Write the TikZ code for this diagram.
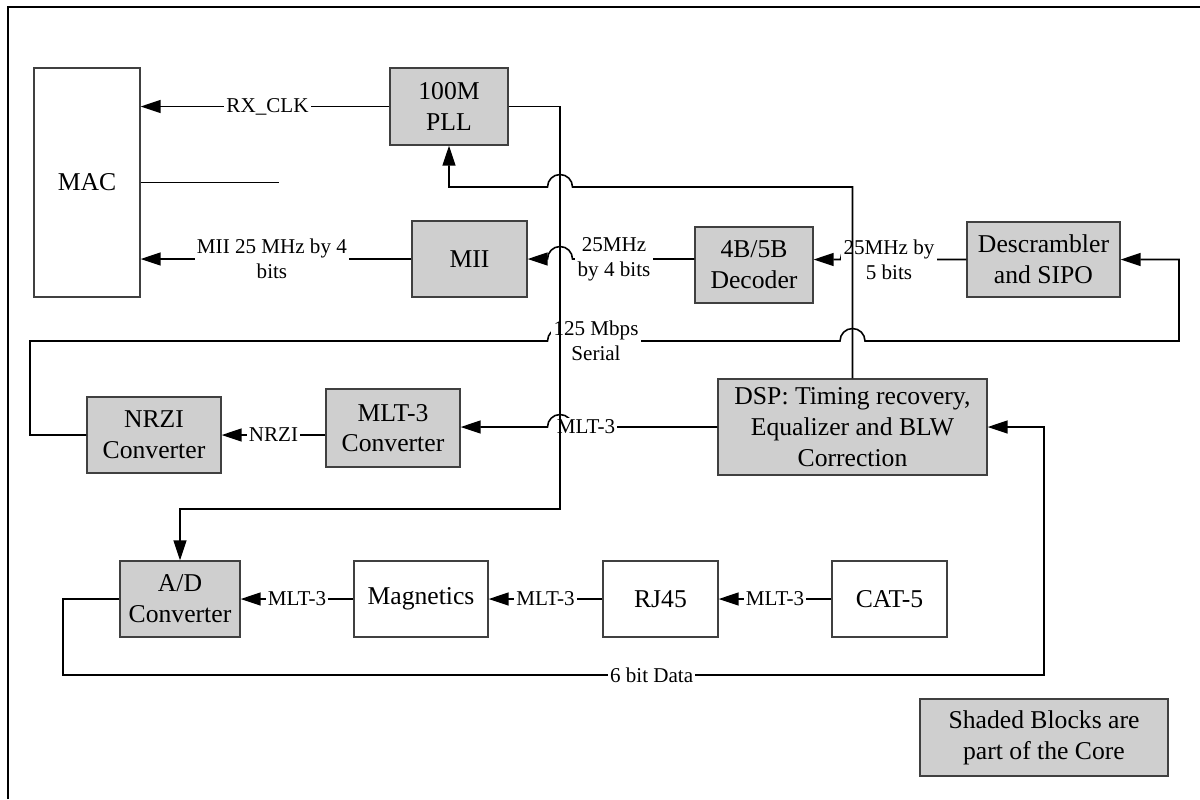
\documentclass[tikz,border=0pt]{standalone}
\usepackage{fontspec}
\setmainfont{Liberation Serif}
\usetikzlibrary{positioning,arrows.meta}

\begin{document}
\begin{tikzpicture}[
    x=0.02cm, y=-0.02cm,
    block/.style={draw=black!75, line width=0.8pt, align=center, inner sep=2pt,
        font=\fontsize{14.6}{17.5}\selectfont},
    coreblock/.style={block, fill=black!19},
    plainblock/.style={block, fill=white},
    lbl/.style={fill=white, inner sep=1.3pt, align=center,
        font=\fontsize{12}{14.2}\selectfont},
    wire/.style={line width=0.9pt},
    sig/.style={wire, -{Triangle[length=0.4cm, width=0.26cm]}}
]
\useasboundingbox (0,0) rectangle (1200,799);

% Frame
\draw[line width=0.04cm] (8,799) -- (8,7) -- (1200,7);

% Blocks
\node[plainblock, minimum width=2.12cm, minimum height=4.58cm] (mac) at (87,182.5) {MAC};
\node[coreblock, minimum width=2.36cm, minimum height=1.54cm] (pll) at (449,106.5) {100M\\PLL};
\node[coreblock, minimum width=2.3cm, minimum height=1.52cm] (mii) at (469.5,259) {MII};
\node[coreblock, minimum width=2.36cm, minimum height=1.52cm] (dec) at (754,265) {4B/5B\\Decoder};
\node[coreblock, minimum width=3.06cm, minimum height=1.5cm] (desc) at (1043.5,259.5) {Descrambler\\and SIPO};
\node[coreblock, minimum width=2.68cm, minimum height=1.52cm] (nrzi) at (154,435) {NRZI\\Converter};
\node[coreblock, minimum width=2.68cm, minimum height=1.56cm] (mlt) at (393,428) {MLT-3\\Converter};
\node[coreblock, minimum width=5.38cm, minimum height=1.92cm] (dsp) at (852.5,427) {DSP: Timing recovery,\\Equalizer and BLW\\Correction};
\node[coreblock, minimum width=2.4cm, minimum height=1.52cm] (ad) at (180,599) {A/D\\Converter};
\node[plainblock, minimum width=2.68cm, minimum height=1.52cm] (mag) at (421,599) {Magnetics};
\node[plainblock, minimum width=2.3cm, minimum height=1.52cm] (rj) at (660.5,599) {RJ45};
\node[plainblock, minimum width=2.3cm, minimum height=1.52cm] (cat) at (889.5,599) {CAT-5};

% Legend
\node[coreblock, minimum width=4.96cm, minimum height=1.54cm] (legend) at (1044,737.5) {Shaded Blocks are\\part of the Core};

% Clock and MII to MAC
\draw[sig] (pll.west) -- (mac.east |- pll.west) node[lbl, pos=0.49] {RX\_CLK};
\coordinate (stub) at (279,182.5);
\draw[wire] (mac.east) -- (stub);
\draw[sig] (mii.west) -- (mac.east |- mii.west) node[lbl, pos=0.515] {MII 25 MHz by 4\\bits};

% Receive chain, upper row
\draw[sig] (dec.west |- mii.east) -- (572.5,259) arc[start angle=0, end angle=180, radius=0.25cm] -- (mii.east);
\node[lbl] (l4bit) at (614,259) {25MHz\\by 4 bits};
\draw[sig] (desc.west) -- (865.5,259.5) arc[start angle=0, end angle=180, radius=0.25cm] -- (dec.east |- desc.west);
\node[lbl] (l5bit) at (889,259.5) {25MHz by\\5 bits};

% 125 Mbps serial loop
\draw[sig] (nrzi.west) -- (30,435) -- (30,341) -- (547.5,341)
    arc[start angle=180, end angle=0, radius=0.25cm] -- (840,341)
    arc[start angle=180, end angle=0, radius=0.25cm] -- (1179,341) -- (1179,259.5) -- (desc.east);
\node[lbl] (lserial) at (596,341) {125 Mbps\\Serial};

% Middle row
\draw[sig] (mlt.west |- nrzi.east) -- (nrzi.east) node[lbl, midway] {NRZI};
\draw[sig] (dsp.west) -- (572.5,427) arc[start angle=0, end angle=180, radius=0.25cm] -- (mlt.east |- dsp.west);
\node[lbl] (lmlt) at (586,427) {MLT-3};

% Line side
\draw[sig] (cat.west) -- (rj.east) node[lbl, midway] {MLT-3};
\draw[sig] (rj.west) -- (mag.east) node[lbl, midway] {MLT-3};
\draw[sig] (mag.west) -- (ad.east) node[lbl, midway] {MLT-3};
\draw[sig] (ad.west) -- (63,599) -- (63,675) -- (1044,675) node[lbl, pos=0.6] {6 bit Data}
    -- (1044,427) -- (dsp.east);

% Clock feedback
\draw[sig] (pll.east) -- (560,106.5) -- (560,509) -- (180,509) -- (ad.north);
\draw[sig] (dsp.north) -- (852.5,187) -- (572.5,187) arc[start angle=0, end angle=180, radius=0.25cm]
    -- (449,187) -- (pll.south);

\end{tikzpicture}
\end{document}
